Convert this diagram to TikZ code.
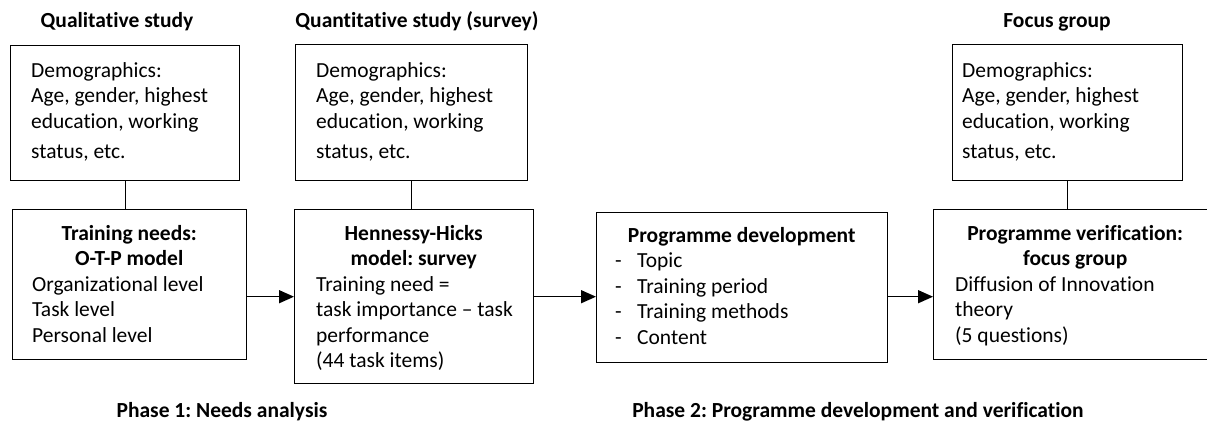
\documentclass[tikz,border=0pt]{standalone}
\usepackage{fontspec}
\setmainfont{Carlito}[Ligatures={NoCommon}]
\usetikzlibrary{arrows.meta}
\frenchspacing

\tikzset{
  box/.style={draw, line width=1.4pt, inner sep=0pt, anchor=north west},
  txt/.style={anchor=base west, inner sep=0pt},
  head/.style={anchor=base, inner sep=0pt, font=\bfseries},
  conn/.style={line width=1.4pt},
  arr/.style={conn, -{Triangle[length=15pt,width=13pt]}}
}
% centred bold title line of width #1
\newcommand{\ttl}[2]{\makebox[#1]{\bfseries #2}}
\newcommand{\itm}[1]{\makebox[22pt][l]{-}#1}

\begin{document}
\begin{tikzpicture}[x=1pt,y=-1pt]
\fontsize{21.5}{25.5}\selectfont
\useasboundingbox (0,0) rectangle (1207,421);
\clip (0,0) rectangle (1207,421);

% column headings
\node[head] (h1) at (117,27) {Qualitative study};
\node[head] (h2) at (417,27) {Quantitative study (survey)};
\node[head] (h3) at (1057,27) {Focus group};

% boxes
\node[box, minimum width=229pt, minimum height=135pt] (A) at (10,45) {};
\node[box, minimum width=234pt, minimum height=150pt] (B) at (12,209) {};
\node[box, minimum width=232pt, minimum height=136pt] (C) at (295,44) {};
\node[box, minimum width=239pt, minimum height=174pt] (D) at (294,209) {};
\node[box, minimum width=291pt, minimum height=150pt] (E) at (596,212) {};
\node[box, minimum width=230pt, minimum height=136pt] (F) at (952,44) {};
\node[box, minimum width=283pt, minimum height=150pt] (G) at (933,209) {};

% box texts
\node[txt] (At) at (31,77) {\parbox[t]{220pt}{\raggedright Demographics:\\Age, gender, highest\\education, working\\[4.5pt]status, etc.}};
\node[txt] (Ct) at (316,77) {\parbox[t]{220pt}{\raggedright Demographics:\\Age, gender, highest\\education, working\\[4.5pt]status, etc.}};
\node[txt] (Ft) at (962,77) {\parbox[t]{220pt}{\raggedright Demographics:\\Age, gender, highest\\education, working\\[4.5pt]status, etc.}};

\node[txt] (Bt) at (32,240) {\parbox[t]{300pt}{\raggedright\ttl{194pt}{Training needs:}\\\ttl{194pt}{O-T-P model}\\Organizational level\\Task level\\Personal level}};
\node[txt] (Dt) at (316,240) {\parbox[t]{300pt}{\raggedright\ttl{195pt}{Hennessy-Hicks}\\\ttl{195pt}{model: survey}\\Training need =\\task importance – task\\performance\\(44 task items)}};
\node[txt] (Et) at (615,242) {\parbox[t]{300pt}{\raggedright\ttl{253pt}{Programme development}\\\itm{Topic}\\\itm{Training period}\\\itm{Training methods}\\\itm{Content}}};
\node[txt] (Gt) at (955,240) {\parbox[t]{300pt}{\raggedright\ttl{240pt}{Programme verification:}\\\ttl{240pt}{focus group}\\Diffusion of Innovation\\theory\\(5 questions)}};

% phase labels
\node[head] (p1) at (222,417) {Phase 1: Needs analysis};
\node[head] (p2) at (858,417) {Phase 2: Programme development and verification};

% connectors
\draw[conn] (A.south) -- (A.south |- B.north);
\draw[conn] (C.south) -- (C.south |- D.north);
\draw[conn] (F.south) -- (F.south |- G.north);
\draw[arr] (B.east |- D.west) -- (D.west);
\draw[arr] (D.east) -- (E.west |- D.east);
\draw[arr] (E.east |- D.east) -- (G.west |- D.east);
\end{tikzpicture}
\end{document}
